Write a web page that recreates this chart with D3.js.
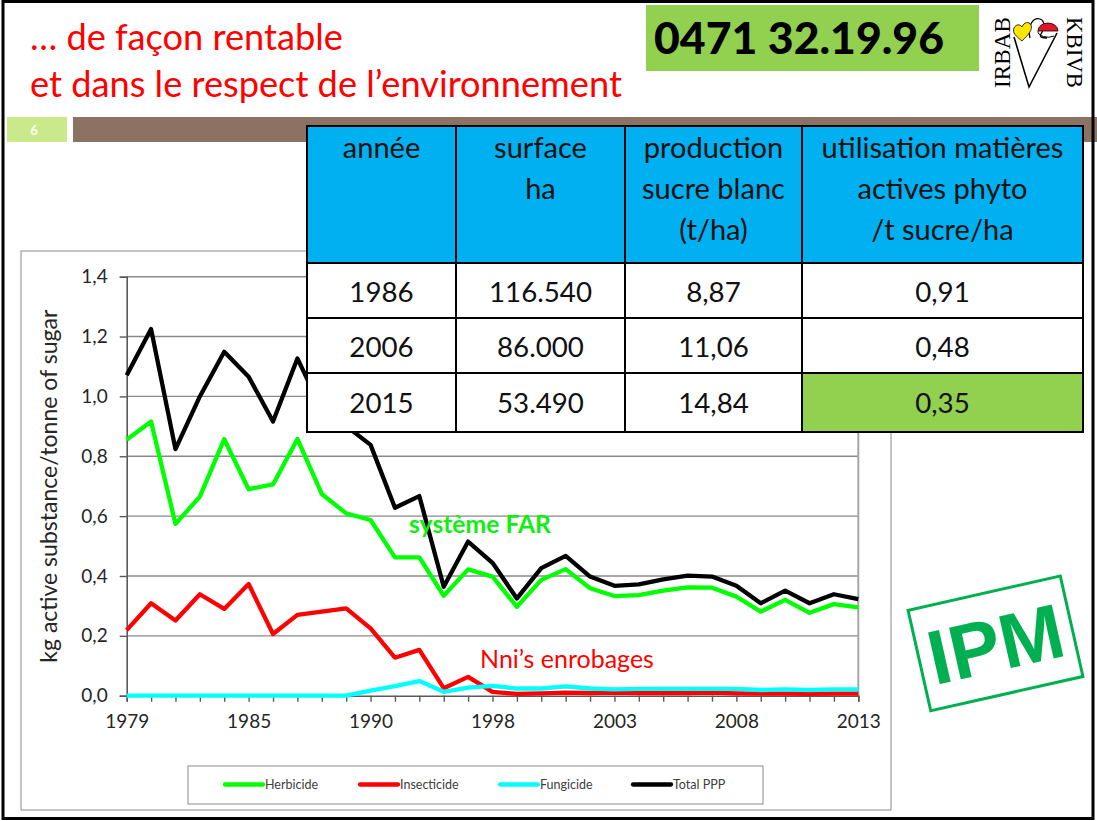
<!DOCTYPE html>
<html><head><meta charset="utf-8">
<script src="https://cdn.jsdelivr.net/npm/d3@7"></script>
<style>body{margin:0;background:#fff;} svg{display:block;}</style>
</head><body>
<svg id="c" width="1097" height="821"></svg>
<script>
// ---------------- DATA ----------------
const categories = ["1979","1980","1981","1982","1983","1985","1986","1987","1988","1989","1990","1992","1994","1996","1997","1998","1999","2000","2001","2002","2003","2004","2005","2006","2007","2008","2009","2010","2011","2012","2013"];
const tickLabels = ["1979","1985","1990","1998","2003","2008","2013"];
const yTicks = [0, 0.2, 0.4, 0.6, 0.8, 1.0, 1.2, 1.4];
const herbicide   = [0.855,0.916,0.574,0.665,0.857,0.690,0.706,0.858,0.674,0.609,0.587,0.462,0.462,0.334,0.422,0.398,0.297,0.387,0.423,0.359,0.333,0.336,0.351,0.362,0.361,0.331,0.281,0.320,0.277,0.306,0.295];
const insecticide = [0.219,0.309,0.251,0.339,0.290,0.373,0.206,0.270,0.281,0.292,0.225,0.127,0.153,0.025,0.063,0.013,0.006,0.008,0.010,0.009,0.010,0.009,0.009,0.009,0.010,0.008,0.007,0.007,0.006,0.007,0.007];
const fungicide   = [0,0,0,0,0,0,0,0,0,0,0.017,0.032,0.049,0.013,0.027,0.033,0.024,0.024,0.031,0.024,0.021,0.023,0.023,0.023,0.023,0.023,0.019,0.021,0.019,0.021,0.021];
const totalPPP    = [1.071,1.225,0.824,1.000,1.149,1.066,0.916,1.127,0.955,0.901,0.838,0.628,0.667,0.364,0.515,0.444,0.325,0.426,0.467,0.398,0.367,0.372,0.389,0.401,0.398,0.367,0.309,0.351,0.309,0.339,0.323];
const seriesNames = ["Herbicide","Insecticide","Fungicide","Total PPP"];
const yAxisTitle = "kg active substance/tonne of sugar";
const annotations = ["système FAR", "Nni’s enrobages"];

const titleLines = ["… de façon rentable", "et dans le respect de l’environnement"];
const phoneText = "0471 32.19.96";
const slideNumber = "6";

const tableHeader = [["année"],["surface","ha"],["production","sucre blanc","(t/ha)"],["utilisation matières","actives phyto","/t sucre/ha"]];
const tableYears = ["1986","2006","2015"];
const tableSurface = ["116.540","86.000","53.490"];
const tableProduction = ["8,87","11,06","14,84"];
const tablePhyto = ["0,91","0,48","0,35"];

// ---------------- HELPERS ----------------
const svg = d3.select("#c");
const FONT = "Lato, 'Open Sans', sans-serif";
function fitSize(text, family, weight, target) {
  const t = svg.append("text").attr("font-family", family).attr("font-weight", weight)
    .attr("font-size", 50).text(text);
  const w = t.node().getComputedTextLength();
  t.remove();
  return 50 * target / w;
}

// ---------------- SLIDE BACKGROUND ----------------
svg.append("rect").attr("width",1097).attr("height",821).attr("fill","#fff");

// title
const titleSize = fitSize(titleLines[1], FONT, 400, 592);
svg.selectAll("text.title").data(titleLines).join("text").attr("class","title")
  .attr("x", 30).attr("y", (d,i) => [50, 97][i])
  .attr("font-family", FONT).attr("font-size", titleSize).attr("fill", "#FF0000").text(d => d);

// phone box
svg.append("rect").attr("x",646).attr("y",5).attr("width",333).attr("height",66).attr("fill","#92D050");
const phoneSize = fitSize(phoneText, FONT, 900, 290);
svg.append("text").attr("x",654).attr("y",54).attr("font-family",FONT)
  .attr("font-weight",900).attr("font-size",phoneSize).attr("fill","#000").text(phoneText);

// logo
const serif = "'Liberation Serif', 'DejaVu Serif', serif";
svg.append("text").attr("transform","translate(1010,52.5) rotate(-90)").attr("text-anchor","middle")
  .attr("font-family",serif).attr("font-size", fitSize("IRBAB", serif, 400, 71)).attr("fill","#000").text("IRBAB");
svg.append("text").attr("transform","translate(1067,52.5) rotate(90)").attr("text-anchor","middle")
  .attr("font-family",serif).attr("font-size", fitSize("KBIVB", serif, 400, 71)).attr("fill","#000").text("KBIVB");
svg.append("path").attr("d","M1014,37 L1029,87 L1057,33").attr("fill","none").attr("stroke","#000").attr("stroke-width",1.6);
svg.append("path").attr("d","M1030,38 C1027,26 1033,17 1040,19 C1046,21 1044,30 1041,34 C1039,37 1042,38 1047,38")
  .attr("fill","none").attr("stroke","#000").attr("stroke-width",1.3);
svg.append("path").attr("d","M1022,41 C1016,36 1012,33 1014,28 C1016,24 1020,24 1022,27 C1024,22 1029,21 1031,25 C1033,30 1028,35 1022,41 Z")
  .attr("fill","#FFE600").attr("stroke","#000").attr("stroke-width",0.8);
svg.append("path").attr("d","M1038,31 A10,8 0 0 1 1058,31 Z").attr("fill","#E8142A").attr("stroke","#000").attr("stroke-width",0.8);
svg.append("path").attr("d","M1038,31 A10,6 0 0 0 1054,36").attr("fill","none").attr("stroke","#000").attr("stroke-width",1);

// bar + slide number
svg.append("rect").attr("x",73).attr("y",117).attr("width",1024).attr("height",25).attr("fill","#8C7263");
svg.append("rect").attr("x",7).attr("y",117).attr("width",60).attr("height",25).attr("fill","#C9E98A");
svg.append("text").attr("x",34).attr("y",134.5).attr("text-anchor","middle").attr("font-family",FONT)
  .attr("font-weight",700).attr("font-size",13).attr("fill","#fff").text(slideNumber);

// ---------------- CHART ----------------
svg.append("rect").attr("x",21).attr("y",251).attr("width",870).attr("height",559)
  .attr("fill","#fff").attr("stroke","#8a8a8a").attr("stroke-width",1);

const x = d3.scalePoint().domain(categories).range([126.7, 858.3]);
const y = d3.scaleLinear().domain([0, 1.4]).range([695.7, 276.7]);

// gridlines
svg.append("g").selectAll("line").data(yTicks.filter(d => d > 0)).join("line")
  .attr("x1", x.range()[0]).attr("x2", x.range()[1]).attr("y1", d => y(d)).attr("y2", d => y(d))
  .attr("stroke","#898989").attr("stroke-width",1.4);
// plot right border
svg.append("line").attr("x1",x.range()[1]).attr("x2",x.range()[1]).attr("y1",y(1.4)).attr("y2",y(0))
  .attr("stroke","#A6A6A6").attr("stroke-width",2);

const yAxis = svg.append("g").attr("transform",`translate(${x.range()[0]},0)`)
  .call(d3.axisLeft(y).tickValues(yTicks).tickSize(7).tickPadding(12)
    .tickFormat(d => d3.format(".1f")(d).replace(".", ",")));
const xAxis = svg.append("g").attr("transform",`translate(0,${y(0)})`)
  .call(d3.axisBottom(x).tickSize(6).tickPadding(13)
    .tickFormat(d => tickLabels.includes(d) ? d : ""));
[yAxis, xAxis].forEach(a => {
  a.select(".domain").attr("stroke","#595959").attr("stroke-width",1.6);
  a.selectAll(".tick line").attr("stroke","#595959").attr("stroke-width",1.4);
  a.selectAll(".tick text").attr("font-family",FONT).attr("font-size",19).attr("fill","#262626");
});

// axis title
const ytSize = fitSize(yAxisTitle, FONT, 400, 353);
svg.append("text").attr("transform",`translate(57,${(y(0)+y(1.4))/2}) rotate(-90)`).attr("text-anchor","middle")
  .attr("font-family",FONT).attr("font-size",ytSize).attr("fill","#262626").text(yAxisTitle);

// series
const series = [
  {name: seriesNames[0], values: herbicide, color: "#00FF00"},
  {name: seriesNames[1], values: insecticide, color: "#FF0000"},
  {name: seriesNames[2], values: fungicide, color: "#00FFFF"},
  {name: seriesNames[3], values: totalPPP, color: "#000000"}
];
const line = d3.line().x((d,i) => x(categories[i])).y(d => y(d));
svg.append("g").selectAll("path").data(series).join("path")
  .attr("d", d => line(d.values)).attr("fill","none").attr("stroke", d => d.color)
  .attr("stroke-width",4.3).attr("stroke-linejoin","round").attr("stroke-linecap","butt");

// annotations
svg.append("text").attr("x",409).attr("y",533).attr("font-family",FONT).attr("font-weight",700)
  .attr("font-size", fitSize(annotations[0], FONT, 700, 142)).attr("fill","#11EE11").text(annotations[0]);
svg.append("text").attr("x",480).attr("y",668).attr("font-family",FONT)
  .attr("font-size", fitSize(annotations[1], FONT, 400, 174)).attr("fill","#FF0000").text(annotations[1]);

// legend
svg.append("rect").attr("x",188).attr("y",766).attr("width",575).attr("height",38)
  .attr("fill","#fff").attr("stroke","#8a8a8a").attr("stroke-width",1);
const legX = [225, 360, 500, 633];
const lg = svg.append("g").selectAll("g").data(series).join("g")
  .attr("transform",(d,i) => `translate(${legX[i]},784.5)`);
lg.append("line").attr("x1",0).attr("x2",38).attr("stroke",d => d.color).attr("stroke-width",4.3).attr("stroke-linecap","round");
lg.append("text").attr("x",40).attr("dy","0.35em").attr("font-family",FONT).attr("font-size",12.5)
  .attr("fill","#404040").text(d => d.name);

// ---------------- TABLE ----------------
const colX = [307, 456, 625, 802, 1083];
const rowY = [126, 263, 318, 373, 432];
const tg = svg.append("g");
tg.append("rect").attr("x",colX[0]).attr("y",rowY[0]).attr("width",colX[4]-colX[0]).attr("height",rowY[1]-rowY[0]).attr("fill","#00B0F0");
tg.append("rect").attr("x",colX[0]).attr("y",rowY[1]).attr("width",colX[4]-colX[0]).attr("height",rowY[4]-rowY[1]).attr("fill","#fff");
tg.append("rect").attr("x",colX[3]).attr("y",rowY[3]).attr("width",colX[4]-colX[3]).attr("height",rowY[4]-rowY[3]).attr("fill","#92D050");
colX.forEach(cx => tg.append("line").attr("x1",cx).attr("x2",cx).attr("y1",rowY[0]).attr("y2",rowY[4]).attr("stroke","#000").attr("stroke-width",2));
rowY.forEach(ry => tg.append("line").attr("x1",colX[0]-1).attr("x2",colX[4]+1).attr("y1",ry).attr("y2",ry).attr("stroke","#000").attr("stroke-width",2));
const hSize = fitSize("utilisation matières", FONT, 400, 242);
const headBase = [157.5, 199, 240];
tableHeader.forEach((lines, c) => {
  lines.forEach((t, k) => {
    tg.append("text").attr("x",(colX[c]+colX[c+1])/2).attr("y",headBase[k]).attr("text-anchor","middle")
      .attr("font-family",FONT).attr("font-size",hSize).attr("fill","#111").text(t);
  });
});
const dSize = fitSize("116.540", FONT, 400, 103);
const rowsData = [tableYears, tableSurface, tableProduction, tablePhyto];
const rowBase = [302, 357, 413];
rowsData.forEach((col, c) => {
  col.forEach((t, r) => {
    tg.append("text").attr("x",(colX[c]+colX[c+1])/2).attr("y",rowBase[r]).attr("text-anchor","middle")
      .attr("font-family",FONT).attr("font-size",dSize).attr("fill","#111").text(t);
  });
});

// ---------------- IPM STAMP ----------------
const st = svg.append("g").attr("transform","translate(995.5,643.4) rotate(-12.7)");
st.append("rect").attr("x",-78).attr("y",-51.5).attr("width",156).attr("height",103)
  .attr("fill","none").attr("stroke","#00B050").attr("stroke-width",3);
st.append("text").attr("x",0).attr("y",27.5).attr("text-anchor","middle")
  .attr("font-family","'Liberation Sans', Arial, sans-serif").attr("font-weight",700)
  .attr("font-size",77).attr("fill","#00B050").text("IPM");

// slide frame
svg.append("rect").attr("x",3).attr("y",1.5).attr("width",1090).attr("height",817)
  .attr("fill","none").attr("stroke","#000").attr("stroke-width",3);
</script>
</body></html>
